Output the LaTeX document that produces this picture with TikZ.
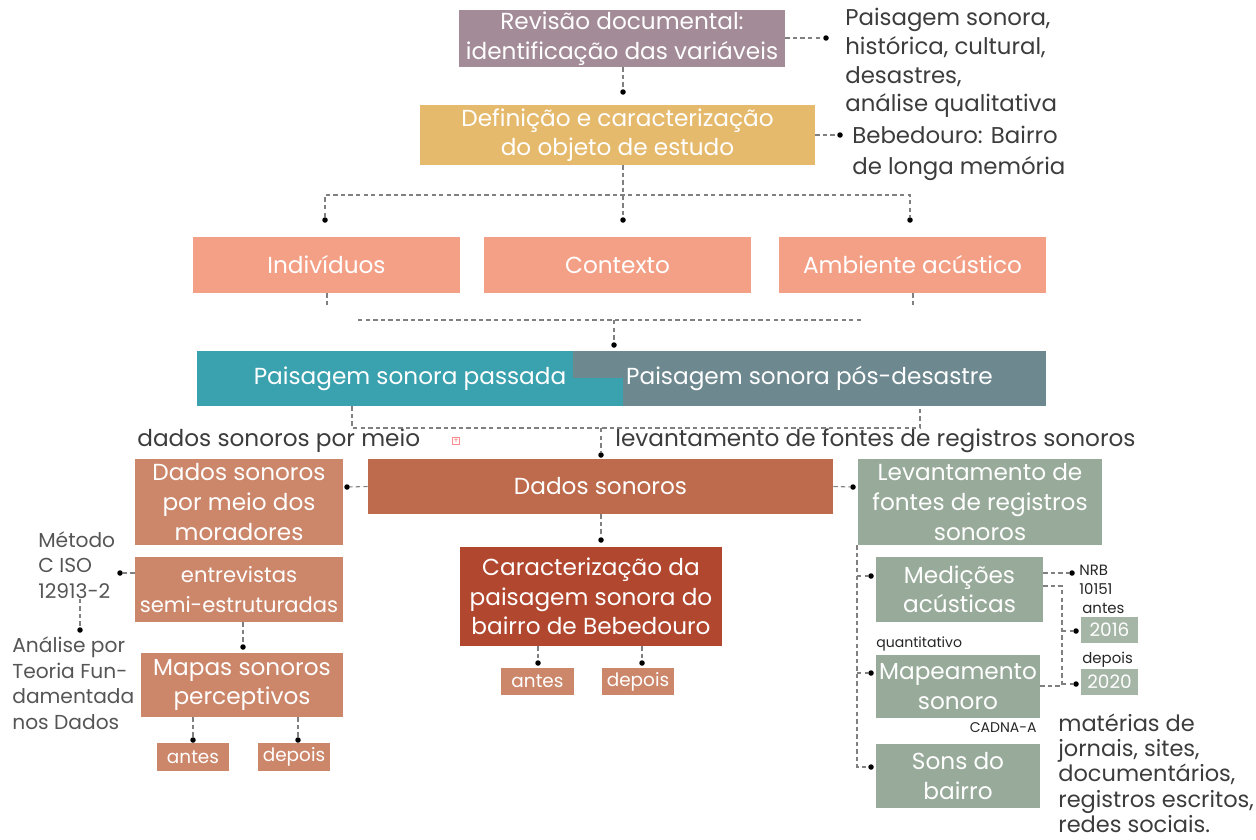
\documentclass[tikz,border=0pt]{standalone}
\usepackage{fontspec}
\setmainfont{Poppins}
\usetikzlibrary{positioning}

\definecolor{revcol}{HTML}{A38B97}
\definecolor{defcol}{HTML}{E6BA6C}
\definecolor{salmon}{HTML}{F4A086}
\definecolor{tealcol}{HTML}{3AA1AF}
\definecolor{slatecol}{HTML}{6E8890}
\definecolor{dadoscol}{HTML}{BE6A4C}
\definecolor{terracol}{HTML}{CC876B}
\definecolor{carcol}{HTML}{B1472F}
\definecolor{sagecol}{HTML}{98AB9A}
\definecolor{sagelight}{HTML}{A5B6A7}
\definecolor{notegray}{HTML}{3C3C3C}
\definecolor{metgray}{HTML}{555555}
\definecolor{linkgray}{HTML}{808080}

\newcommand{\boxfont}{\fontsize{13.2}{16.8}\selectfont}
\newcommand{\tagfont}{\fontsize{10.5}{12}\selectfont}
\newcommand{\smallfont}{\fontsize{8}{10.5}\selectfont}

\begin{document}
\begin{tikzpicture}[
    x=0.02cm, y=-0.02cm,
    box/.style={
        rectangle, inner sep=0pt, align=center, text=white, font=\boxfont
    },
    tagbox/.style={
        rectangle, inner sep=0pt, align=center, text=white, font=\tagfont
    },
    sz/.style 2 args={minimum width=#1*0.02cm, minimum height=#2*0.02cm},
    note/.style={
        align=left, text=notegray, inner sep=0pt, font=\boxfont
    },
    small/.style={
        align=left, text=black!85, inner sep=0pt, font=\smallfont
    },
    dot/.style={circle, fill=black, inner sep=0pt, minimum size=0.11cm},
    link/.style={draw=linkgray, line width=0.6pt, dash pattern=on 2.5pt off 1.8pt}
]
\useasboundingbox (0,0) rectangle (1256,839);

% ---------------- Revisao ----------------
\node[box, sz={326}{57}, fill=revcol] (rev) at (622,38.5) {Revisão documental:\\identificação das variáveis};
\node[dot] (d_rev) at (826,38) {};
\node[note, anchor=west, font=\fontsize{13}{16.4}\selectfont] (rev_note) at (845,63) {Paisagem sonora,\\histórica, cultural,\\desastres,\\análise qualitativa};

% ---------------- Objeto de estudo ----------------
\node[dot] (d_def_top) at (623,92) {};
\node[box, sz={395}{60}, fill=defcol] (def) at (617.5,135) {Definição e caracterização\\do objeto de estudo};
\node[dot] (d_def) at (840,135) {};
\node[note, anchor=west, font=\fontsize{13}{17.5}\selectfont] (def_note) at (852,153.5) {Bebedouro: Bairro\\de longa memória};

% ---------------- Variaveis ----------------
\coordinate (bar1) at (623,195);
\node[dot] (d_ind) at (325,220) {};
\node[dot] (d_ctx) at (623,220) {};
\node[dot] (d_amb) at (910,220) {};
\node[box, sz={267}{56}, fill=salmon] (ind) at (326.5,265) {Indivíduos};
\node[box, sz={267}{56}, fill=salmon] (ctx) at (617.5,265) {Contexto};
\node[box, sz={267}{56}, fill=salmon] (amb) at (912.5,265) {Ambiente acústico};

\coordinate (st_ind) at (327,308);
\coordinate (st_amb) at (913,308);
\coordinate (bar2w) at (358,320);
\coordinate (bar2e) at (862,320);
\node[dot] (d_ps) at (614,345) {};

% ---------------- Paisagem sonora ----------------
\node[box, sz={426}{55}, fill=tealcol] (passada) at (410,378.5) {Paisagem sonora passada};
\node[box, sz={473}{55}, fill=slatecol] (posd) at (809.5,378.5) {Paisagem sonora pós-desastre};
\node[box, sz={50}{28}, fill=tealcol] (passada_tail) at (598,392) {};

\coordinate (br_w) at (352,428);
\coordinate (br_e) at (920,428);
\node[note, anchor=west] (lbl_mor) at (137,441) {dados sonoros por meio};
\node[draw=red!45, inner sep=0pt, minimum size=0.15cm, text=red!45, font=\fontsize{5}{5}\selectfont] (icon) at (456,441) {+};
\node[note, anchor=west] (lbl_lev) at (615,441) {levantamento de fontes de registros sonoros};

% ---------------- Dados sonoros ----------------
\node[dot] (d_dados) at (601,455) {};
\node[box, sz={465}{55}, fill=dadoscol] (dados) at (600.5,486.5) {Dados sonoros};
\node[dot] (d_mor) at (347,487) {};
\node[dot] (d_lev) at (853,487) {};
\node[dot] (d_car) at (601,540) {};
\node[box, sz={262}{99}, fill=carcol] (car) at (591,596.5) {Caracterização da\\paisagem sonora do\\bairro de Bebedouro};
\node[dot] (d_cant) at (538,663) {};
\node[dot] (d_cdep) at (642,663) {};
\node[tagbox, sz={73}{27}, fill=terracol] (cant) at (537.5,681.5) {antes};
\node[tagbox, sz={72}{27}, fill=terracol] (cdep) at (638,681.5) {depois};

% ---------------- Moradores ----------------
\node[box, sz={208}{86}, fill=terracol] (mor) at (239,502) {Dados sonoros\\por meio dos\\moradores};
\node[box, sz={208}{65}, fill=terracol, font=\fontsize{12}{16.8}\selectfont] (ent) at (239,589.5) {entrevistas\\semi-estruturadas};
\node[dot] (d_ent) at (120,573) {};
\node[note, anchor=west, text=metgray, font=\fontsize{11.5}{14.5}\selectfont] (met) at (38,565) {Método\\C ISO\\12913-2};
\node[dot] (d_met) at (80,630) {};
\node[note, anchor=west, text=metgray, font=\fontsize{11.5}{14.5}\selectfont] (ana) at (12,683) {Análise por\\Teoria Fun-\\damentada\\nos Dados};
\node[dot] (d_map) at (243,647) {};
\node[box, sz={202}{64}, fill=terracol] (map) at (242,685) {Mapas sonoros\\perceptivos};
\node[dot] (d_mant) at (193,740) {};
\node[dot] (d_mdep) at (298,740) {};
\node[tagbox, sz={72}{28}, fill=terracol] (mant) at (193,757) {antes};
\node[tagbox, sz={72}{28}, fill=terracol] (mdep) at (294,757) {depois};

% ---------------- Registros ----------------
\node[box, sz={244}{86}, fill=sagecol] (lev) at (980,502) {Levantamento de\\fontes de registros\\sonoros};
\coordinate (sp_bot) at (857,767);
\node[dot] (d_med) at (871,576) {};
\node[dot] (d_mps) at (871,673) {};
\node[dot] (d_sons) at (871,767) {};
\node[box, sz={167}{65}, fill=sagecol] (med) at (959.5,589.5) {Medições\\acústicas};
\node[box, sz={164}{63}, fill=sagecol] (mps) at (958,686.5) {Mapeamento\\sonoro};
\node[box, sz={164}{64}, fill=sagecol] (sons) at (958,776) {Sons do\\bairro};
\node[small, anchor=west] (quant) at (876,644) {quantitativo};
\node[small, anchor=east] (cadna) at (1037,728) {CADNA-A};

\node[dot] (d_nrb) at (1072,573) {};
\node[small, anchor=west, font=\fontsize{8.5}{10.8}\selectfont] (nrb) at (1079,580) {NRB\\10151};
\coordinate (yr_top) at (1062,586);
\coordinate (yr_bot) at (1062,686);
\node[dot] (d_y16) at (1076,631) {};
\node[dot] (d_y20) at (1076,684) {};
\node[small, anchor=west, font=\fontsize{8.5}{10.8}\selectfont] (lbl_antes) at (1082,608) {antes};
\node[small, anchor=west, font=\fontsize{8.5}{10.8}\selectfont] (lbl_depois) at (1082,660) {depois};
\node[tagbox, sz={57}{26}, fill=sagelight] (y16) at (1109.5,630) {2016};
\node[tagbox, sz={57}{26}, fill=sagelight] (y20) at (1109.5,682) {2020};
\node[note, anchor=west, font=\fontsize{12.8}{14.4}\selectfont] (mat) at (1058,773) {matérias de\\jornais, sites,\\documentários,\\registros escritos,\\redes sociais.};

% ---------------- Links ----------------
\draw[link] (rev.east |- d_rev) -- (d_rev);
\draw[link] (rev.south -| d_def_top) -- (d_def_top);
\draw[link] (def.east |- d_def) -- (d_def);
\draw[link] (def.south -| bar1) -- (bar1) -- (d_ctx);
\draw[link] (d_ind) -- (d_ind |- bar1) -- (d_amb |- bar1) -- (d_amb);
\draw[link] (ind.south -| st_ind) -- (st_ind);
\draw[link] (amb.south -| st_amb) -- (st_amb);
\draw[link] (bar2w) -- (bar2e);
\draw[link] (d_ps |- bar2w) -- (d_ps);
\draw[link] (passada.south -| br_w) -- (br_w) -- (br_e) -- (posd.south -| br_e);
\draw[link] (d_dados |- br_w) -- (d_dados);
\draw[link] (dados.west) -- (d_mor);
\draw[link] (dados.east) -- (d_lev);
\draw[link] (dados.south -| d_car) -- (d_car);
\draw[link] (car.south -| d_cant) -- (d_cant);
\draw[link] (car.south -| d_cdep) -- (d_cdep);
\draw[link] (d_ent -| ent.west) -- (d_ent);
\draw[link] (met.south -| d_met) -- (d_met);
\draw[link] (ent.south -| d_map) -- (d_map);
\draw[link] (map.south -| d_mant) -- (d_mant);
\draw[link] (map.south -| d_mdep) -- (d_mdep);
\draw[link] (lev.south -| sp_bot) -- (sp_bot) -- (d_sons);
\draw[link] (d_med -| sp_bot) -- (d_med);
\draw[link] (d_mps -| sp_bot) -- (d_mps);
\draw[link] (d_nrb -| med.east) -- (d_nrb);
\draw[link] (yr_top -| med.east) -- (yr_top) -- (yr_bot) -- (yr_bot -| mps.east);
\draw[link] (d_y16 -| yr_top) -- (d_y16);
\draw[link] (d_y20 -| yr_top) -- (d_y20);

\end{tikzpicture}
\end{document}
